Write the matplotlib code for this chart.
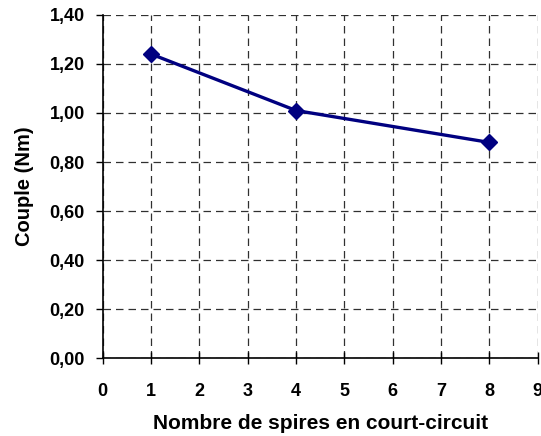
import matplotlib.pyplot as plt
from matplotlib.ticker import FuncFormatter

plt.rcParams['font.family'] = ['Liberation Sans', 'DejaVu Sans']
plt.rcParams['font.weight'] = 'bold'

# turns in short circuit vs. torque
spires = [1, 4, 8]
couple = [1.24, 1.01, 0.88]

fig = plt.figure(figsize=(5.41, 4.36), dpi=100)
ax = fig.add_axes([0.190, 0.178, 0.804, 0.788])

ax.plot(spires, couple, color='#000080', lw=2.4, marker='D', ms=8,
        zorder=3, clip_on=False)

ax.set_xlim(0, 9)
ax.set_ylim(0, 1.40)
ax.set_xticks(range(0, 10))
ax.set_yticks([i * 0.2 for i in range(8)])
ax.yaxis.set_major_formatter(FuncFormatter(lambda v, p: f'{v:.2f}'.replace('.', ',')))

ax.grid(True, color='#303030', ls=(0, (6, 4)), lw=0.9)
for s in ('top', 'right'):
    ax.spines[s].set_visible(False)
for s in ('left', 'bottom'):
    ax.spines[s].set_linewidth(1.2)

ax.tick_params(axis='x', direction='inout', length=8, width=1, labelsize=13, pad=14)
ax.tick_params(axis='y', direction='out', length=5, width=1, labelsize=13, pad=8)

ax.set_xlabel('Nombre de spires en court-circuit', fontsize=15, fontweight='bold', labelpad=10)
ax.set_ylabel('Couple (Nm)', fontsize=14.5, fontweight='bold', labelpad=11)

fig.savefig('out.png', dpi=100)
